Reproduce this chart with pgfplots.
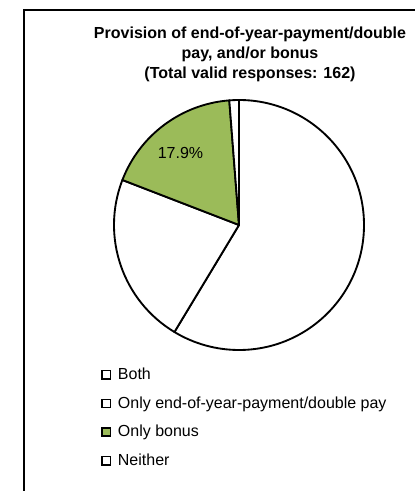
\documentclass[border=0pt]{standalone}
\usepackage{fontspec}
\setmainfont{Liberation Sans}
\usepackage{pgfplots}
\usepackage{pgfplotstable}
\pgfplotsset{compat=1.18}
\definecolor{bonusgreen}{RGB}{155,187,89}

% responses out of 162
\pgfplotstableread{
label     count fillc      showlab
Both      95    white      0
Onlyend   36    white      0
Onlybonus 29    bonusgreen 1
Neither   2     white      0
}\responses

\begin{document}
\begin{tikzpicture}
\begin{axis}[
    scale only axis,
    width=311.25pt, height=368.25pt,
    xmin=0, xmax=415, ymin=0, ymax=491,   % pixel grid of the picture
    hide axis, clip=false,
    legend style={at={(axis cs:101,126)}, anchor=north west, draw=none, fill=none,
        font=\fontsize{12}{14.4}\selectfont, row sep=7.3pt, column sep=3.2pt, inner sep=0pt},
    legend cell align=left,
    legend image code/.code={\draw[#1, line width=1.1pt] (0pt,-3.1pt) rectangle (6.2pt,3.1pt);},
]
    \coordinate (SW) at (axis cs:0,0);
    \coordinate (NE) at (axis cs:415,491);

    % frame of the cropped chart area
    \draw[line width=1.4pt] (axis cs:24,0) -- (axis cs:24,481) -- (axis cs:415,481);

    % title
    \node[align=center, font=\fontsize{12}{15}\selectfont\bfseries] at (axis cs:250,437)
        {Provision of end-of-year-payment/double\\pay, and/or bonus\\(Total valid responses: 162)};

    % pie slices, clockwise from 12 o'clock
    \pgfmathsetmacro\startang{90}
    \pgfplotsforeachungrouped \i in {0,...,3}{%
        \pgfplotstablegetelem{\i}{count}\of\responses \let\slicecount\pgfplotsretval
        \pgfplotstablegetelem{\i}{fillc}\of\responses \let\slicefill\pgfplotsretval
        \pgfplotstablegetelem{\i}{showlab}\of\responses \let\showl\pgfplotsretval
        \pgfmathsetmacro\endang{\startang-\slicecount/162*360}
        \pgfmathsetmacro\midang{(\startang+\endang)/2+2.5}
        \pgfmathsetmacro\pct{\slicecount/162*100}
        \edef\temp{\noexpand\filldraw[fill=\slicefill, draw=black, line width=1.4pt, line join=round]
            (axis cs:239,266) -- ++(\startang:93.75pt)
            arc[start angle=\startang, end angle=\endang, radius=93.75pt] -- cycle;}%
        \temp
        \ifnum\showl=1
            \edef\temp{\noexpand\path (axis cs:239,266) ++(\midang:69.5pt)
                node[font=\noexpand\fontsize{12}{14.4}\noexpand\selectfont]
                {\noexpand\pgfmathprintnumber[fixed,fixed zerofill,precision=1,assume math mode=true]{\pct}\noexpand\%};}%
            \temp
        \fi
        \global\let\startang\endang
    }

    \addlegendimage{fill=white, draw=black}
    \addlegendentry{Both}
    \addlegendimage{fill=white, draw=black}
    \addlegendentry{Only end-of-year-payment/double pay}
    \addlegendimage{fill=bonusgreen, draw=black}
    \addlegendentry{Only bonus}
    \addlegendimage{fill=white, draw=black}
    \addlegendentry{Neither}
\end{axis}
\pgfresetboundingbox
\useasboundingbox (SW) rectangle (NE);
\end{tikzpicture}
\end{document}
